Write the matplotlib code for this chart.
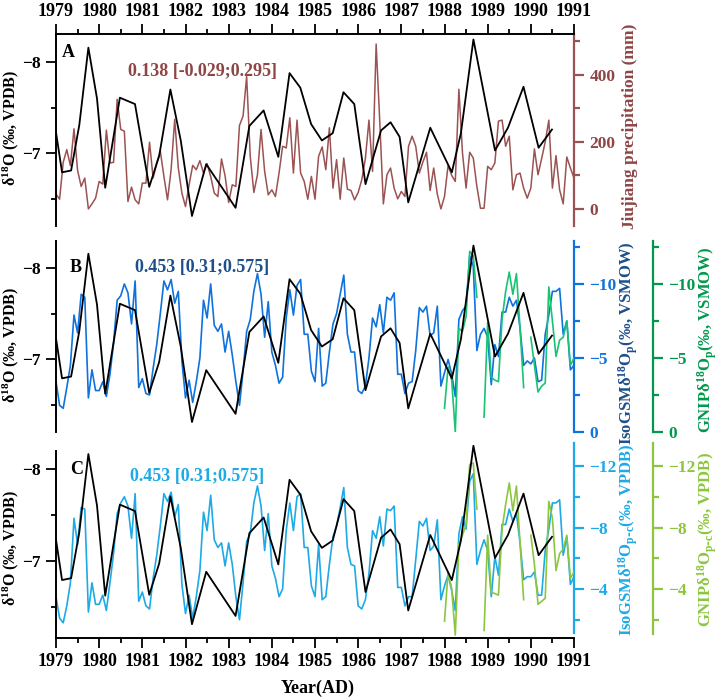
import numpy as np
import matplotlib
matplotlib.use("Agg")
import matplotlib.pyplot as plt
from matplotlib.ticker import FixedLocator

plt.rcParams['font.family'] = ['Liberation Serif', 'DejaVu Serif']
plt.rcParams['font.weight'] = 'bold'
plt.rcParams['mathtext.default'] = 'regular'

# speleothem d18O (black line, same in all panels)
cave_years = [1979.00, 1979.14, 1979.35, 1979.54, 1979.75, 1979.95, 1980.14, 1980.48,
              1980.83, 1981.16, 1981.39, 1981.65, 1981.89, 1982.15, 1982.48, 1983.16,
              1983.48, 1983.81, 1984.15, 1984.41, 1984.66, 1984.91, 1985.16, 1985.41,
              1985.66, 1985.91, 1986.17, 1986.53, 1986.75, 1986.96, 1987.16, 1987.67,
              1988.17, 1988.38, 1988.67, 1989.17, 1989.47, 1989.83, 1990.18, 1990.49]
cave_d18o = [-7.23, -6.79, -6.81, -7.31, -8.16, -7.60, -6.62, -7.61,
             -7.54, -6.63, -6.97, -7.70, -7.14, -6.31, -6.88, -6.40,
             -7.30, -7.47, -6.96, -7.88, -7.72, -7.32, -7.14, -7.22,
             -7.67, -7.54, -6.66, -7.25, -7.34, -7.18, -6.46, -7.28,
             -6.79, -7.22, -8.25, -7.03, -7.28, -7.73, -7.06, -7.26]

# Jiujiang monthly precipitation (mm), Jan 1979 .. Jan 1991
precip = [44, 29, 139, 177, 129, 239, 115, 67, 92, 0, 15, 32,
          82, 74, 235, 137, 139, 327, 237, 232, 22, 65, 27, 15,
          77, 77, 199, 92, 137, 172, 97, 27, 117, 267, 122, 47,
          7, 72, 130, 117, 144, 107, 135, 97, 47, 37, 149, 99,
          19, 72, 67, 249, 277, 395, 157, 49, 102, 237, 112, 42,
          57, 37, 107, 187, 182, 272, 107, 265, 107, 82, 29, 97,
          29, 157, 185, 117, 242, 62, 147, 29, 152, 59, 55, 27,
          49, 87, 150, 265, 112, 492, 262, 15, 102, 122, 62, 30,
          52, 37, 187, 217, 187, 107, 140, 169, 55, 122, 44, 0,
          37, 130, 100, 82, 357, 167, 62, 169, 152, 67, 2, 2,
          127, 117, 137, 262, 265, 187, 217, 57, 102, 107, 62, 32,
          62, 179, 102, 150, 200, 265, 62, 159, 57, 15, 155, 122,
          92]

# IsoGSM d18Op (VSMOW), panel B
iso_vsmow = [-3.4, -1.8, -1.6, -3.0, -4.5, -7.9, -6.7, -9.3, -9.1, -2.3, -4.2, -2.8,
             -2.8, -3.4, -2.4, -3.9, -6.0, -8.9, -9.2, -10.0, -9.4, -7.3, -10.2, -3.0,
             -3.6, -2.6, -2.5, -4.3, -5.9, -8.0, -10.2, -9.6, -10.3, -8.7, -9.5, -4.8,
             -2.3, -3.5, -2.0, -3.4, -5.0, -8.9, -7.7, -10.0, -7.2, -6.8, -7.3, -5.4,
             -6.8, -5.2, -3.4, -1.8, -4.1, -6.8, -7.6, -9.5, -10.7, -9.3, -6.4, -8.8,
             -5.4, -4.5, -3.3, -3.7, -7.7, -9.6, -7.9, -9.9, -10.3, -6.6, -6.6, -4.1,
             -3.4, -7.0, -3.1, -3.3, -5.4, -7.3, -8.0, -9.3, -10.6, -6.6, -5.4, -5.4,
             -2.8, -2.6, -3.1, -5.0, -7.7, -7.1, -8.6, -6.7, -9.1, -8.9, -9.4, -3.9,
             -3.9, -2.6, -3.3, -3.4, -5.5, -8.4, -8.1, -8.5, -6.5, -6.7, -8.5, -3.1,
             -4.0, -4.9, -3.9, -2.4, -7.6, -8.2, -8.5, -11.9, -11.2, -5.5, -6.6, -7.0,
             -6.4, -3.2, -5.9, -5.1, -8.1, -8.1, -9.1, -8.5, -8.9, -7.0, -4.5, -4.8,
             -4.6, -5.0, -3.4, -3.5, -6.6, -7.9, -9.5, -9.5, -9.7, -6.6, -7.5, -4.2,
             -4.5]

# IsoGSM d18Op-c (VPDB), panel C
iso_vpdb = [-3.5, -2.1, -1.8, -2.9, -4.4, -8.6, -6.9, -9.3, -9.2, -2.5, -4.4, -3.0,
            -3.0, -3.6, -2.6, -4.4, -6.3, -8.9, -9.6, -10.0, -9.4, -7.3, -10.2, -3.2,
            -3.8, -2.9, -2.7, -4.7, -6.2, -8.1, -10.2, -9.7, -10.3, -8.7, -9.5, -4.3,
            -2.4, -3.6, -2.1, -3.5, -5.2, -9.0, -7.8, -10.1, -7.2, -6.7, -7.0, -5.5,
            -7.0, -5.6, -3.5, -2.0, -4.4, -7.1, -7.6, -9.6, -10.7, -9.4, -6.5, -8.9,
            -5.5, -4.7, -3.5, -4.0, -7.8, -9.6, -7.8, -10.0, -10.2, -6.7, -6.7, -4.2,
            -3.5, -6.9, -3.3, -3.5, -5.6, -7.4, -8.1, -9.3, -10.6, -6.7, -5.6, -5.5,
            -2.9, -2.7, -3.3, -5.0, -7.8, -7.3, -8.7, -6.8, -9.2, -9.1, -9.4, -4.1,
            -4.1, -2.9, -3.5, -3.5, -5.9, -8.4, -8.1, -8.6, -6.5, -6.8, -8.5, -3.3,
            -4.2, -4.9, -3.9, -2.6, -7.6, -8.7, -7.9, -11.0, -11.5, -5.6, -6.5, -7.2,
            -6.5, -3.5, -6.1, -4.9, -8.2, -8.2, -9.2, -8.4, -8.9, -7.0, -4.6, -4.8,
            -4.8, -5.1, -3.6, -3.6, -6.5, -7.9, -9.6, -9.6, -9.8, -6.2, -7.4, -4.3,
            -4.8]

# GNIP station data, Jan 1988 .. Jan 1991 (nan = missing month)
nan = np.nan
gnip_vsmow = [-1.6, -4.4, -3.5, 0.0, -7.0, -6.8, -7.8, -12.2, -11.9, -9.1, nan, -1.0,
              -7.4, -3.7, -3.5, -3.4, -7.6, -9.5, -10.8, -9.3, -10.7, -7.0, -3.0, nan,
              -6.4, -4.5, -2.7, -3.1, -3.3, -9.8, -7.5, -5.1, -6.2, -6.4, -7.5, -4.5,
              -5.0]
gnip_vpdb = [-1.9, -5.1, -4.0, -1.0, -6.9, -7.5, -8.2, -12.1, -12.2, -9.2, nan, -1.3,
             -7.5, -3.8, -3.7, -3.6, -7.9, -9.5, -10.9, -9.1, -10.7, -7.0, -3.3, nan,
             -7.5, -5.6, -3.0, -3.2, -3.4, -9.7, -8.6, -5.2, -6.3, -6.6, -7.5, -4.7,
             -5.1]

month_x = 1979 + np.arange(len(precip)) / 12.0
gnip_x = 1988 + np.arange(len(gnip_vsmow)) / 12.0
year_ticks = list(range(1979, 1992))
half_ticks = [y + 0.5 for y in range(1979, 1991)]

c_brown = "#9b5252"
c_brown_txt = "#8e4545"
c_blue = "#0f72dd"
c_navy = "#1f4f8a"
c_green = "#18c474"
c_green_ax = "#00994c"
c_sky = "#1daae6"
c_lime = "#8cc63f"

W, H = 720.0, 700.0
fig = plt.figure(figsize=(7.2, 7.0), dpi=100)


def box(top, bottom):
    return [56 / W, 1 - bottom / H, 518 / W, (bottom - top) / H]


def left_axis(ax, lims):
    ax.set_xlim(1979, 1991)
    ax.set_ylim(*lims)
    ax.yaxis.set_major_locator(FixedLocator([-8, -7]))
    ax.yaxis.set_minor_locator(FixedLocator([-7.5, -6.5]))
    ax.tick_params(axis='y', which='major', direction='out', length=7, width=1.3,
                   labelsize=12.5, pad=4)
    ax.tick_params(axis='y', which='minor', direction='out', length=3.5, width=1.3)
    for s in ['top', 'right', 'bottom']:
        ax.spines[s].set_visible(False)
    ax.spines['left'].set_linewidth(1.4)
    ax.set_zorder(5)
    ax.patch.set_visible(False)


def right_axis(ax, lims, major, minor, color, tcolor, outward=0):
    ax.set_ylim(*lims)
    for s in ['top', 'left', 'bottom']:
        ax.spines[s].set_visible(False)
    ax.spines['right'].set_color(color)
    ax.spines['right'].set_linewidth(1.6)
    if outward:
        ax.spines['right'].set_position(('outward', outward))
    ax.yaxis.set_major_locator(FixedLocator(major))
    ax.yaxis.set_minor_locator(FixedLocator(minor))
    ax.tick_params(axis='y', which='major', direction='out', length=7, width=1.6,
                   color=color, labelcolor=tcolor, labelsize=12.5, pad=4)
    ax.tick_params(axis='y', which='minor', direction='out', length=4, width=1.6,
                   color=color)


# ---- panel A ----
ax_a = fig.add_axes(box(34, 226))
ax_a2 = ax_a.twinx()
left_axis(ax_a, (-6.20, -8.31))
ax_a.spines['top'].set_visible(True)
ax_a.spines['top'].set_linewidth(1.4)
ax_a.xaxis.tick_top()
ax_a.set_xticks(year_ticks)
ax_a.set_xticks(half_ticks, minor=True)
ax_a.tick_params(axis='x', which='major', direction='out', length=7, width=1.3,
                 labelsize=13, pad=3)
ax_a.tick_params(axis='x', which='minor', direction='out', length=3.5, width=1.3)
right_axis(ax_a2, (-51, 522), [0, 200, 400], [100, 300, 500], c_brown, c_brown_txt)
ax_a2.plot(month_x, precip, color=c_brown, lw=1.1)
ax_a.plot(cave_years, cave_d18o, color='black', lw=1.3)
ax_a.text(0.023, 0.906, 'A', transform=ax_a.transAxes, fontsize=13,
          ha='center', va='center')
ax_a.text(0.139, 0.807, '0.138 [-0.029;0.295]', transform=ax_a.transAxes,
          fontsize=13, color=c_brown_txt, ha='left', va='center')

# ---- panel B ----
ax_b = fig.add_axes(box(241, 432))
ax_b2 = ax_b.twinx()
ax_b3 = ax_b.twinx()
left_axis(ax_b, (-6.20, -8.30))
ax_b.set_xticks([])
ax_b.set_xticks([], minor=True)
right_axis(ax_b2, (0, -12.9), [0, -5, -10], [-2.5, -7.5, -12.5], c_blue, c_blue)
right_axis(ax_b3, (0, -12.9), [0, -5, -10], [-2.5, -7.5, -12.5], c_green_ax, c_green_ax,
           outward=57)
ax_b2.set_zorder(1)
ax_b3.set_zorder(2)
ax_b2.plot(month_x, iso_vsmow, color=c_blue, lw=1.2)
ax_b3.plot(gnip_x, gnip_vsmow, color=c_green, lw=1.2)
ax_b.plot(cave_years, cave_d18o, color='black', lw=1.3)
ax_b.text(0.037, 0.859, 'B', transform=ax_b.transAxes, fontsize=13,
          ha='center', va='center')
ax_b.text(0.1525, 0.859, '0.453 [0.31;0.575]', transform=ax_b.transAxes,
          fontsize=13, color=c_navy, ha='left', va='center')

# ---- panel C ----
ax_c = fig.add_axes(box(443, 638))
ax_c2 = ax_c.twinx()
ax_c3 = ax_c.twinx()
left_axis(ax_c, (-6.16, -8.28))
ax_c.spines['left'].set_bounds(-6.16, -8.19)
ax_c.spines['bottom'].set_visible(True)
ax_c.spines['bottom'].set_linewidth(1.4)
ax_c.set_xticks(year_ticks)
ax_c.set_xticks(half_ticks, minor=True)
ax_c.tick_params(axis='x', which='major', direction='out', length=7, width=1.3,
                 labelsize=13, pad=4)
ax_c.tick_params(axis='x', which='minor', direction='out', length=3.5, width=1.3)
right_axis(ax_c2, (-0.81, -13.5), [-4, -8, -12], [-2, -6, -10], c_sky, c_sky)
right_axis(ax_c3, (-0.81, -13.5), [-4, -8, -12], [-2, -6, -10], c_lime, c_lime,
           outward=57)
ax_c2.spines['right'].set_bounds(-1.15, -13.5)
ax_c3.spines['right'].set_bounds(-1.05, -13.5)
ax_c2.set_zorder(1)
ax_c3.set_zorder(2)
ax_c2.plot(month_x, iso_vpdb, color=c_sky, lw=1.2)
ax_c3.plot(gnip_x, gnip_vpdb, color=c_lime, lw=1.2)
ax_c.plot(cave_years, cave_d18o, color='black', lw=1.3)
ax_c.text(0.04, 0.862, 'C', transform=ax_c.transAxes, fontsize=13,
          ha='center', va='center')
ax_c.text(0.143, 0.826, '0.453 [0.31;0.575]', transform=ax_c.transAxes,
          fontsize=13, color=c_sky, ha='left', va='center')

# ---- axis titles ----
d18o_lab = r'$\delta^{18}$O (‰, VPDB)'
for yc in [128, 345, 548]:
    fig.text(10.5 / W, 1 - yc / H, d18o_lab, rotation=90, fontsize=11.5,
             ha='center', va='center')
fig.text(630 / W, 1 - 126 / H, 'Jiujiang precipitation (mm)', rotation=90,
         fontsize=12.5, color=c_brown_txt, ha='center', va='center')
fig.text(628 / W, 1 - 343 / H, r'IsoGSM$\delta^{18}$O$_p$(‰, VSMOW)', rotation=90,
         fontsize=12, color=c_navy, ha='center', va='center')
fig.text(707 / W, 1 - 340 / H, r'GNIP$\delta^{18}$O$_p$(‰, VSMOW)', rotation=90,
         fontsize=12, color=c_green_ax, ha='center', va='center')
fig.text(628 / W, 1 - 540 / H, r'IsoGSM$\delta^{18}$O$_{p\text{-}c}$(‰, VPDB)',
         rotation=90, fontsize=12, color=c_sky, ha='center', va='center')
fig.text(707 / W, 1 - 540 / H, r'GNIP$\delta^{18}$O$_{p\text{-}c}$(‰, VPDB)',
         rotation=90, fontsize=12, color=c_lime, ha='center', va='center')
fig.text(318 / W, 1 - 688 / H, 'Year(AD)', fontsize=13, ha='center', va='center')

fig.savefig('out.png', dpi=100)
